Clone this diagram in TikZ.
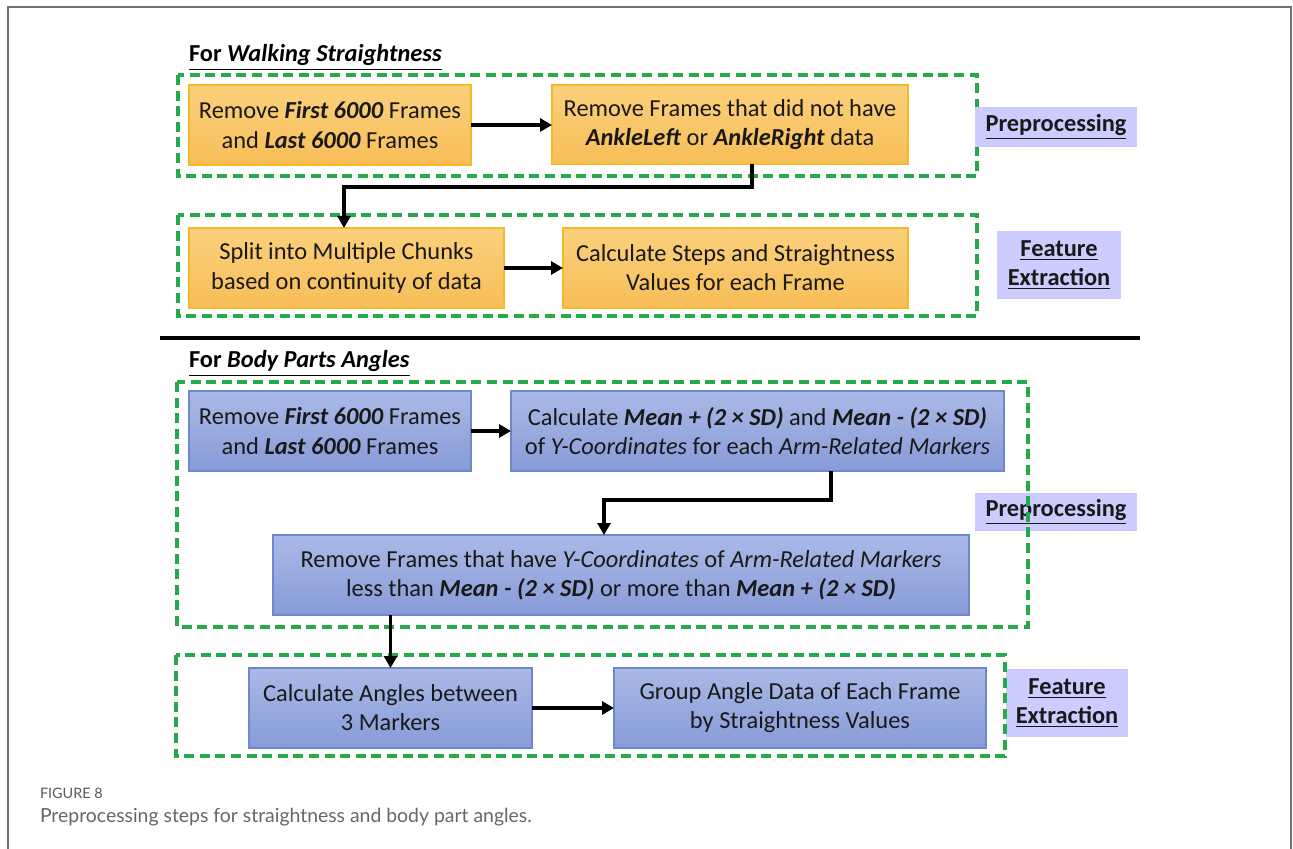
\documentclass[tikz,border=0pt]{standalone}
\usepackage{fontspec}
\setmainfont{Carlito}
\newfontfamily\capfont{Lato}
\usetikzlibrary{arrows.meta}
\definecolor{ofill1}{RGB}{251,208,124}
\definecolor{ofill2}{RGB}{247,190,88}
\definecolor{oborder}{RGB}{245,185,40}
\definecolor{bfill1}{RGB}{170,185,230}
\definecolor{bfill2}{RGB}{136,155,216}
\definecolor{bborder}{RGB}{110,137,202}
\definecolor{dgreen}{RGB}{34,170,76}
\definecolor{lav}{RGB}{204,204,255}
\definecolor{txt}{RGB}{25,25,25}
\begin{document}
\begin{tikzpicture}[x=0.5pt,y=-0.5pt,
  every node/.style={inner sep=0pt,outer sep=0pt},
  boxtxt/.style={font=\fontsize{12.2}{14.6}\selectfont,text=txt,align=center},
  obox/.style={boxtxt,draw=oborder,line width=0.6pt,top color=ofill1,bottom color=ofill2,minimum height=40pt},
  bbox/.style={boxtxt,draw=bborder,line width=0.6pt,top color=bfill1,bottom color=bfill2,minimum height=40pt},
  grp/.style={draw=dgreen,line width=1.6pt,dash pattern=on 5pt off 2.8pt,fill=none},
  lab/.style={fill=lav,font=\bfseries\fontsize{12.2}{14.6}\selectfont,text=txt,align=center},
  arr/.style={draw=black,line width=1.9pt,-{Triangle[length=6pt,width=6.5pt]}},
  ttl/.style={font=\bfseries\fontsize{12.2}{14}\selectfont,text=black,anchor=base west}]
\useasboundingbox (0,0) rectangle (1293,849);
% outer frame
\draw[line width=1pt,draw=black!55] (7.5,849) -- (7.5,7.5) -- (1291,7.5) -- (1291,849);

% ---- Walking straightness ----
\node[ttl] (t1) at (189,62) {\underline{For \textit{Walking Straightness}}};
\draw[grp] (178,75) rectangle (977,176);
\node[obox,minimum width=141pt] (a1) at (330,125) {Remove \textbf{\textit{First 6000}} Frames\\and \textbf{\textit{Last 6000}} Frames};
\node[obox,minimum width=178pt,minimum height=39.5pt] (a2) at (730,124.5) {Remove Frames that did not have\\\textbf{\textit{AnkleLeft}} or \textbf{\textit{AnkleRight}} data};
\node[lab,minimum width=81pt,minimum height=20pt] (l1) at (1056,127) {\underline{Preprocessing}};
\draw[arr] (a1.east) -- (a1.east -| a2.west);

\node[obox,minimum width=157.5pt] (b1) at (346.5,268) {Split into Multiple Chunks\\based on continuity of data};
\node[obox,minimum width=172.5pt] (b2) at (735.5,268) {Calculate Steps and Straightness\\Values for each Frame};
\node[lab,minimum width=62pt,minimum height=34pt] (l2) at (1059,265) {\underline{Feature}\\\underline{Extraction}};
\draw[arr] (b1.east) -- (b1.east -| b2.west);
\draw[grp] (178,215) rectangle (977,316);
\coordinate (k1) at (752,187);
\coordinate (k1b) at (344,187);
\draw[arr] (a2.south -| k1) -- (k1) -- (k1b) -- (b1.north -| k1b);

% separator
\draw[line width=2pt] (160,338) -- (1140,338);

% ---- Body parts angles ----
\node[ttl] (t2) at (189,368) {\underline{For \textit{Body Parts Angles}}};
\node[bbox,minimum width=141pt] (c1) at (330,431) {Remove \textbf{\textit{First 6000}} Frames\\and \textbf{\textit{Last 6000}} Frames};
\node[bbox,minimum width=246.5pt] (c2) at (757.5,431) {Calculate \textbf{\textit{Mean + (2 × SD)}} and \textbf{\textit{Mean - (2 × SD)}}\\of \textit{Y-Coordinates} for each \textit{Arm-Related Markers}};
\draw[arr] (c1.east) -- (c1.east -| c2.west);
\node[lab,minimum width=81pt,minimum height=19pt] (l3) at (1056,512) {\underline{Preprocessing}};
\node[bbox,minimum width=348pt] (d) at (621,575) {Remove Frames that have \textit{Y-Coordinates} of \textit{Arm-Related Markers}\\less than \textbf{\textit{Mean - (2 × SD)}} or more than \textbf{\textit{Mean + (2 × SD)}}};
\draw[grp] (177,382) rectangle (1028,627);
\coordinate (k2) at (831,500);
\coordinate (k3) at (604,500);
\draw[arr] (c2.south -| k2) -- (k2) -- (k3) -- (d.north -| k3);

\node[bbox,minimum width=141.5pt] (e1) at (390.5,708) {Calculate Angles between\\3 Markers};
\node[bbox,minimum width=186pt] (e2) at (800,708) {Group Angle Data of Each Frame\\by Straightness Values};
\node[lab,minimum width=61pt,minimum height=34pt] (l4) at (1067,703) {\underline{Feature}\\\underline{Extraction}};
\draw[grp] (176,655) rectangle (1005,756);
\draw[arr] (d.south -| e1.north) -- (e1.north);
\draw[arr] (e1.east) -- (e1.east -| e2.west);

% caption
\node[anchor=base west,font=\capfont\fontsize{7.2}{8}\selectfont,text=black!65] (cap1) at (40,798) {FIGURE 8};
\node[anchor=base west,font=\capfont\fontsize{9.7}{11}\selectfont,text=black!60] (cap2) at (40,822) {Preprocessing steps for straightness and body part angles.};
\end{tikzpicture}
\end{document}
